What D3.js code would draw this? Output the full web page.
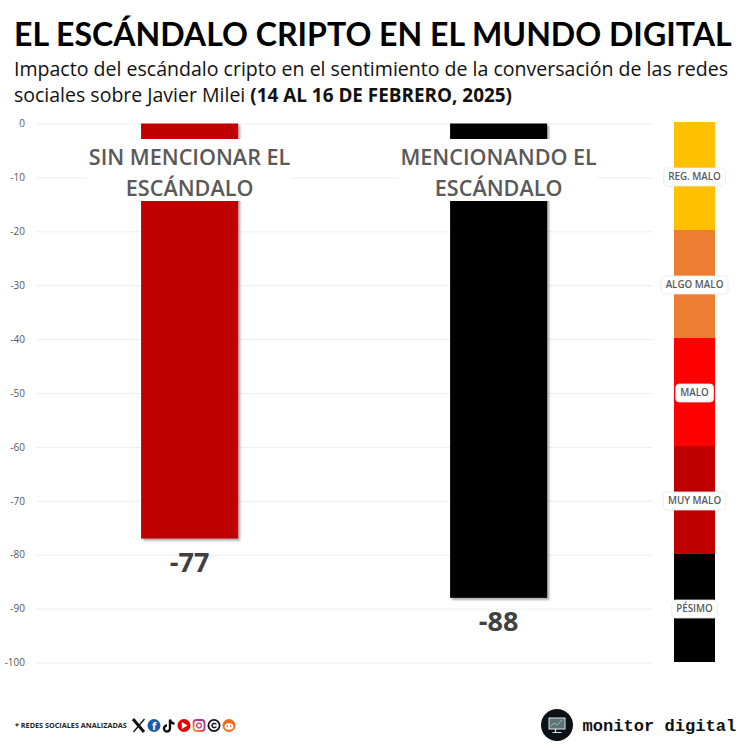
<!DOCTYPE html>
<html>
<head>
<meta charset="utf-8">
<script src="https://cdn.jsdelivr.net/npm/d3@7"></script>
<style>
  html, body { margin: 0; padding: 0; background: #fff; }
  text { font-family: "Open Sans", sans-serif; }
</style>
</head>
<body>
<script>
//------------ DATA ----------------------
const categories = ["SIN MENCIONAR EL|ESCÁNDALO", "MENCIONANDO EL|ESCÁNDALO"];
const values = [-77, -88];
const barColors = ["#c00000", "#000000"];
const yTicks = [0, -10, -20, -30, -40, -50, -60, -70, -80, -90, -100];

const bandNames = ["REG. MALO", "ALGO MALO", "MALO", "MUY MALO", "PÉSIMO"];
const bandTop = [0, -20, -40, -60, -80];
const bandBottom = [-20, -40, -60, -80, -100];
const bandColors = ["#ffc000", "#ed7d31", "#ff0000", "#c00000", "#000000"];

const iconNames = ["x", "facebook", "tiktok", "youtube", "instagram", "threads", "reddit"];
//----------------------------------------

const width = 750, height = 750;

const svg = d3.select("body").append("svg")
    .attr("width", width)
    .attr("height", height)
    .style("display", "block");

const defs = svg.append("defs");
const shadow = defs.append("filter").attr("id", "barShadow")
    .attr("x", "-10%").attr("y", "-10%").attr("width", "120%").attr("height", "120%");
shadow.append("feDropShadow")
    .attr("dx", 2).attr("dy", 2).attr("stdDeviation", 1.2)
    .attr("flood-color", "#000").attr("flood-opacity", 0.35);

const igGrad = defs.append("linearGradient").attr("id", "igGrad")
    .attr("x1", "0").attr("y1", "1").attr("x2", "1").attr("y2", "0");
igGrad.append("stop").attr("offset", "0").attr("stop-color", "#f9a825");
igGrad.append("stop").attr("offset", "0.5").attr("stop-color", "#e1306c");
igGrad.append("stop").attr("offset", "1").attr("stop-color", "#8a3ab9");

//------------ SCALES ----------------------
const y = d3.scaleLinear().domain([0, -100]).range([123.5, 662.5]);
const x = d3.scaleBand().domain(categories).range([36, 652.2]).paddingInner(0.686).paddingOuter(0.34);
// the colour strip sits a little higher than the chart in the reference
const yBand = d3.scaleLinear().domain([0, -100]).range([122, 662]);

//------------ TITLE ----------------------
svg.append("text")
    .attr("x", 14).attr("y", 46)
    .style("font-family", "Lato, sans-serif")
    .attr("font-size", 32.1).attr("font-weight", 700).attr("fill", "#000")
    .text("EL ESCÁNDALO CRIPTO EN EL MUNDO DIGITAL");

svg.append("text")
    .attr("x", 14).attr("y", 76)
    .attr("font-size", 19.5).attr("fill", "#111")
    .attr("textLength", 714).attr("lengthAdjust", "spacingAndGlyphs")
    .text("Impacto del escándalo cripto en el sentimiento de la conversación de las redes");

const sub2 = svg.append("text")
    .attr("x", 14).attr("y", 102)
    .attr("font-size", 19.5).attr("fill", "#111");
sub2.append("tspan").text("sociales sobre Javier Milei ");
sub2.append("tspan").attr("font-weight", 700).attr("font-size", 18.9).text("(14 AL 16 DE FEBRERO, 2025)");

//------------ AXIS AND GRID ----------------------
const axis = d3.axisLeft(y)
    .tickValues(yTicks)
    .tickSize(-(653 - 36))
    .tickPadding(11)
    .tickFormat(d => String(d));

const gAxis = svg.append("g")
    .attr("transform", "translate(36,0)")
    .call(axis);
gAxis.select(".domain").remove();
gAxis.selectAll(".tick line").attr("stroke", "#eeeeee").attr("stroke-width", 1);
gAxis.selectAll(".tick text").attr("font-size", 10).attr("fill", "#595959");

//------------ BARS ----------------------
svg.selectAll("rect.bar")
    .data(values)
    .join("rect")
    .attr("class", "bar")
    .attr("x", (d, i) => x(categories[i]))
    .attr("y", y(0))
    .attr("width", x.bandwidth())
    .attr("height", d => y(d) - y(0))
    .attr("fill", (d, i) => barColors[i])
    .attr("filter", "url(#barShadow)");

svg.selectAll("text.value")
    .data(values)
    .join("text")
    .attr("class", "value")
    .attr("x", (d, i) => x(categories[i]) + x.bandwidth() / 2)
    .attr("y", d => y(d) + 33.5)
    .attr("text-anchor", "middle")
    .attr("font-size", 27).attr("font-weight", 700).attr("fill", "#404040")
    .text(d => d);

//------------ CATEGORY LABELS ----------------------
const labels = svg.selectAll("g.cat")
    .data(categories)
    .join("g")
    .attr("class", "cat")
    .attr("transform", d => `translate(${x(d) + x.bandwidth() / 2},0)`);

labels.append("rect")
    .attr("x", (d, i) => i === 0 ? -102 : -99)
    .attr("y", 139)
    .attr("width", (d, i) => i === 0 ? 204 : 198)
    .attr("height", 62)
    .attr("fill", "#fff");

labels.each(function(d) {
  const lines = d.split("|");
  d3.select(this).selectAll("text")
    .data(lines)
    .join("text")
    .attr("y", (l, i) => 164.5 + i * 31)
    .attr("text-anchor", "middle")
    .attr("font-size", 21.6).attr("font-weight", 600).attr("fill", "#595959")
    .text(l => l);
});

//------------ COLOUR BAND ----------------------
const bandX = 674, bandW = 41;

svg.selectAll("rect.band")
    .data(bandNames)
    .join("rect")
    .attr("class", "band")
    .attr("x", bandX)
    .attr("y", (d, i) => yBand(bandTop[i]))
    .attr("width", bandW)
    .attr("height", (d, i) => yBand(bandBottom[i]) - yBand(bandTop[i]))
    .attr("fill", (d, i) => bandColors[i]);

const bandLabels = svg.selectAll("g.bandLabel")
    .data(bandNames)
    .join("g")
    .attr("class", "bandLabel")
    .attr("transform", (d, i) => `translate(${bandX + bandW / 2},${yBand((bandTop[i] + bandBottom[i]) / 2) + 1})`);

bandLabels.append("text")
    .attr("text-anchor", "middle").attr("dy", "0.35em")
    .attr("font-size", 9.8).attr("font-weight", 600).attr("fill", "#595959")
    .text(d => d);

bandLabels.insert("rect", "text")
    .each(function() {
      const b = this.parentNode.querySelector("text").getBBox();
      d3.select(this)
        .attr("x", b.x - 4.5).attr("y", -9)
        .attr("width", b.width + 9).attr("height", 18);
    })
    .attr("rx", 3.5)
    .attr("fill", "#fff").attr("stroke", "#e8e8e8").attr("stroke-width", 0.8);

//------------ FOOTER ----------------------
svg.append("text")
    .attr("x", 15).attr("y", 728)
    .attr("font-size", 7.25).attr("font-weight", 700).attr("fill", "#222")
    .text("* REDES SOCIALES ANALIZADAS");

const iconX = d3.scalePoint().domain(iconNames).range([139, 229]);
const icons = svg.selectAll("g.icon")
    .data(iconNames)
    .join("g")
    .attr("class", "icon")
    .attr("transform", d => `translate(${iconX(d)},725.5)`);

icons.each(function(name) {
  const g = d3.select(this);
  if (name === "x") {
    g.append("path").attr("d", "M-6,-6.5L5,6.5").attr("stroke", "#111").attr("stroke-width", 3).attr("fill", "none");
    g.append("path").attr("d", "M-5.5,6.5L5.5,-6.5").attr("stroke", "#111").attr("stroke-width", 1.3).attr("fill", "none");
  } else if (name === "facebook") {
    g.append("circle").attr("r", 6.5).attr("fill", "#1f5aa8");
    g.append("text").attr("text-anchor", "middle").attr("y", 4.5).attr("font-size", 11).attr("font-weight", 700).attr("fill", "#fff").text("f");
  } else if (name === "tiktok") {
    g.append("path").attr("d", "M1,-6V3A3,3 0 1 1 -2,0M1,-6C1.5,-3.5 3.5,-2 5.5,-2").attr("stroke", "#111").attr("stroke-width", 2.4).attr("fill", "none");
  } else if (name === "youtube") {
    g.append("circle").attr("r", 6.5).attr("fill", "#e60000");
    g.append("path").attr("d", "M-2.2,-3.4L3.6,0L-2.2,3.4Z").attr("fill", "#fff");
  } else if (name === "instagram") {
    g.append("rect").attr("x", -5.5).attr("y", -5.5).attr("width", 11).attr("height", 11).attr("rx", 3)
      .attr("fill", "none").attr("stroke", "url(#igGrad)").attr("stroke-width", 1.8);
    g.append("circle").attr("r", 2.4).attr("fill", "none").attr("stroke", "#d6336c").attr("stroke-width", 1.3);
  } else if (name === "threads") {
    g.append("circle").attr("r", 5.6).attr("fill", "none").attr("stroke", "#111").attr("stroke-width", 1.8);
    g.append("path").attr("d", "M2.4,-1.2A2.4,2.2 0 1 0 2.4,1.2").attr("fill", "none").attr("stroke", "#111").attr("stroke-width", 1.4);
  } else {
    g.append("circle").attr("r", 6.5).attr("fill", "#f26a1b");
    g.append("ellipse").attr("cy", 1).attr("rx", 4.4).attr("ry", 3.2).attr("fill", "#fff");
    g.append("circle").attr("cx", -1.6).attr("cy", 0.6).attr("r", 0.8).attr("fill", "#f26a1b");
    g.append("circle").attr("cx", 1.6).attr("cy", 0.6).attr("r", 0.8).attr("fill", "#f26a1b");
  }
});

// logo
const logo = svg.append("g").attr("transform", "translate(557,725)");
logo.append("circle").attr("r", 16).attr("fill", "#0d1118");
logo.append("rect").attr("x", -8).attr("y", -7).attr("width", 16).attr("height", 11).attr("fill", "#5f7278").attr("stroke", "#dfe5e8").attr("stroke-width", 1);
logo.append("path").attr("d", "M-6,1L-3,-2L0,0L5,-5").attr("fill", "none").attr("stroke", "#7fd0a8").attr("stroke-width", 1);
logo.append("path").attr("d", "M-1.5,4V7M-4.5,7.5H4.5").attr("stroke", "#dfe5e8").attr("stroke-width", 1.2);

svg.append("text")
    .attr("x", 582.5).attr("y", 731)
    .style("font-family", "'Liberation Mono', monospace")
    .attr("font-size", 17.1).attr("font-weight", 700).attr("fill", "#111")
    .text("monitor digital");
</script>
</body>
</html>
